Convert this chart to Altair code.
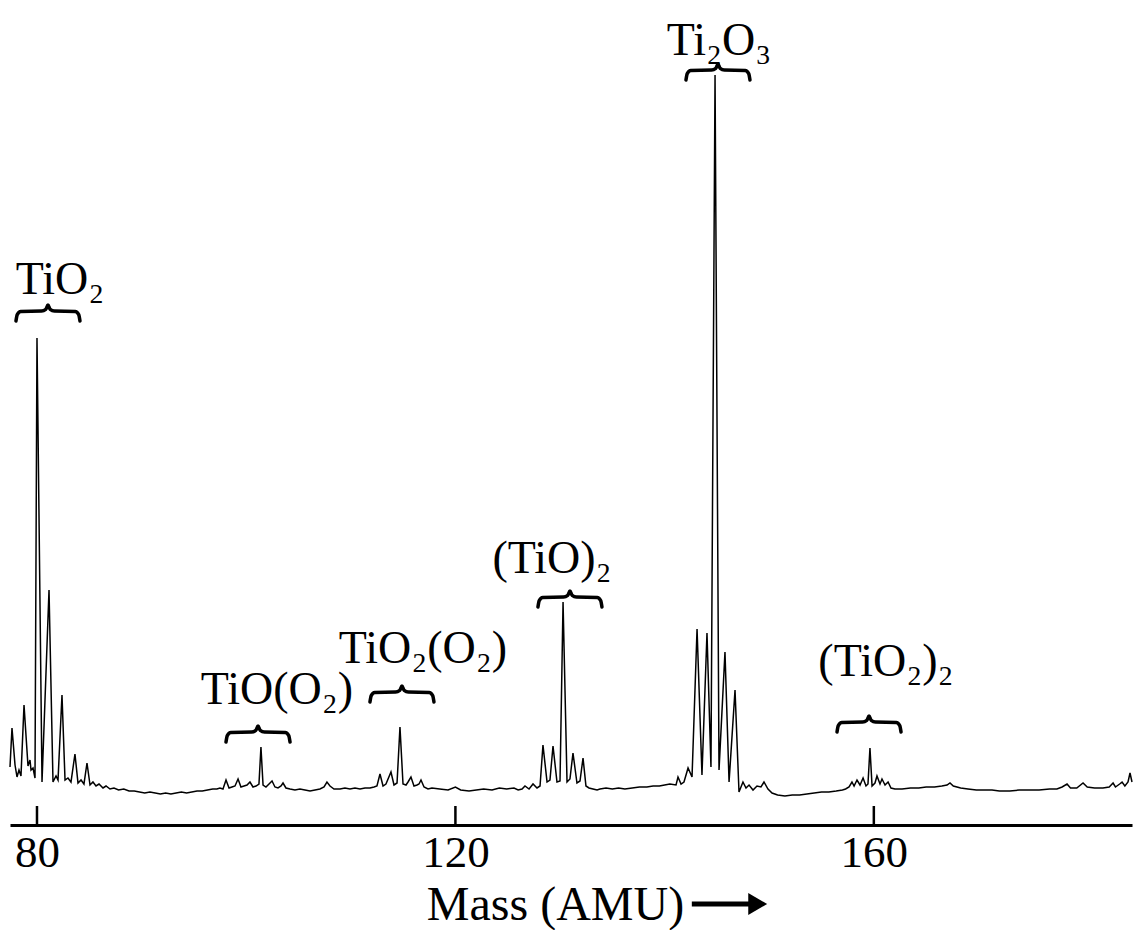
import altair as alt
import pandas as pd

# Mass spectrum of titanium oxide clusters: mass (AMU) and detector signal (arb. units)
mass = [
    # TiO2 group
    77.42, 77.61, 77.90, 78.09, 78.28, 78.47, 78.76, 79.14, 79.33, 79.43, 79.62, 79.81,
    80.00, 80.48, 81.15, 81.53, 81.82, 82.01, 82.39, 82.68, 82.96, 83.25, 83.63, 83.92,
    84.21, 84.49, 84.78, 85.07, 85.35, 85.64, 85.93, 86.31, 86.60, 86.98, 87.36, 87.8,
    88.3, 88.8, 89.3, 89.8, 90.3, 90.8, 91.3, 91.8, 92.3, 92.8, 93.3, 93.8, 94.3, 94.8,
    95.3, 95.8, 96.3, 96.8, 97.2, 97.49,
    # TiO(O2) group
    97.78, 98.07, 98.36, 98.64, 98.93, 99.22, 99.50, 99.79, 100.08, 100.36, 100.65,
    100.94, 101.22, 101.41, 101.61, 101.89, 102.18, 102.47, 102.75, 103.04, 103.33,
    103.52, 103.80, 104.19, 104.66,
    105.14, 105.62, 106.10, 106.58, 107.05, 107.44, 107.72, 108.01, 108.39, 108.97,
    109.44, 109.92, 110.40, 110.88, 111.36, 111.83, 112.22,
    # TiO2(O2) group
    112.50, 112.79, 113.08, 113.36, 113.84, 114.13, 114.42, 114.70, 114.99, 115.28,
    115.47, 115.75, 116.04, 116.33, 116.52, 116.71, 117.00, 117.38, 117.76,
    118.5, 119.3, 120.0, 120.5, 121.3, 122.0, 122.7, 123.5, 124.2, 124.9, 125.6, 126.0,
    126.37, 126.65, 127.04, 127.42, 127.80,
    # (TiO)2 group
    128.09, 128.37, 128.76, 129.04, 129.33, 129.71, 130.00, 130.29, 130.67, 130.95,
    131.24, 131.62, 131.91, 132.20, 132.48, 132.77, 133.15, 133.54, 133.82,
    134.4, 135.0, 135.6, 136.2, 136.9, 137.6, 138.3, 138.9, 139.5, 140.0, 140.5,
    141.09, 141.28, 141.57, 141.85, 142.24, 142.62,
    # Ti2O3 group
    143.10, 143.57, 144.05, 144.43, 144.82, 145.20, 145.77, 146.16, 146.73, 147.11,
    147.49, 147.78, 148.07, 148.45, 148.83, 149.21, 149.50, 149.88, 150.27,
    150.8, 151.5, 152.2, 152.9, 153.6, 154.3, 155.0, 155.7, 156.4, 157.0, 157.3,
    # (TiO2)2 group
    157.63, 157.91, 158.11, 158.39, 158.68, 158.97, 159.25, 159.44, 159.63, 159.83,
    160.11, 160.30, 160.59, 160.78, 161.07, 161.36, 161.64, 162.02,
    162.7, 163.5, 164.3, 165.0, 165.8, 166.5, 167.0, 167.28, 167.6, 168.3, 169.0,
    169.8, 170.5, 171.3, 172.0, 173.0, 173.9, 174.9, 175.8, 176.8, 177.5, 178.0,
    178.47, 178.8, 179.4, 180.0, 180.4, 181.1, 181.9, 182.5, 182.87, 183.1, 183.5,
    183.73, 184.0, 184.3, 184.49, 184.68,
]

intensity = [
    58, 97, 60, 48, 55, 49, 120, 59, 65, 55, 57, 47,
    487, 43, 235, 43, 49, 45, 130, 45, 47, 43, 71, 42,
    45, 41, 62, 40, 43, 39, 41, 37, 39, 36, 37, 35,
    36, 34, 34, 33, 32, 33, 32, 31, 32, 31, 32, 33, 32, 33,
    34, 34, 35, 36, 36, 37,
    36, 45, 37, 38, 39, 46, 38, 39, 40, 43, 38,
    39, 41, 78, 40, 38, 41, 44, 38, 37, 39,
    42, 37, 36, 35,
    36, 35, 34, 35, 36, 38, 43, 39, 36, 36,
    37, 36, 37, 36, 37, 37, 38,
    39, 51, 39, 41, 53, 40, 42, 98, 41, 40,
    43, 48, 39, 40, 41, 45, 38, 36, 37,
    36, 35, 38, 35, 34, 35, 36, 35, 37, 36, 37, 35,
    36, 39, 36, 41, 37,
    39, 80, 43, 45, 79, 43, 44, 223, 43, 46,
    72, 42, 44, 67, 39, 37, 36, 35, 36,
    37, 36, 37, 36, 37, 38, 38, 39, 39, 40, 41,
    40, 48, 41, 43, 57, 48,
    196, 50, 192, 58, 750, 55, 173, 43, 135, 33,
    43, 37, 40, 35, 39, 38, 43, 36, 32,
    30, 29, 30, 30, 31, 32, 33, 33, 34, 35, 36,
    38, 43, 39, 45, 40, 47, 39, 41, 77, 39,
    42, 49, 41, 46, 40, 43, 37, 36,
    36, 37, 37, 38, 38, 39, 40, 42, 39, 37, 36,
    35, 35, 35, 34, 34, 35, 35, 35, 36, 36, 38,
    41, 37, 37, 42, 38, 37, 37, 38, 42, 38, 41,
    43, 39, 43, 52, 43,
]

tick_values = [80, 120, 160]

# Cluster assignments
labels = ["TiO₂", "TiO(O₂)", "TiO₂(O₂)", "(TiO)₂", "Ti₂O₃", "(TiO₂)₂"]
label_mass = [82.20, 102.94, 116.90, 129.23, 145.20, 161.16]
label_level = [531, 121, 162, 252, 770, 149]

# Horizontal curly braces grouping each cluster
brace_tip_mass = [81.05, 101.13, 114.89, 130.95, 145.10, 159.54]
brace_base = [504, 83, 123, 218, 745, 93]
BRACE_HALF = 3.06
BRACE_RISE = 16
brace_u = [-1, -0.96, -0.85, -0.2, -0.07, 0, 0.07, 0.2, 0.85, 0.96, 1]
brace_v = [0, 0.4, 0.6, 0.62, 0.72, 1, 0.72, 0.62, 0.6, 0.4, 0]

FONT = "Liberation Serif"
X_DOMAIN = [77.42, 184.68]
Y_DOMAIN = [0, 815]
TICK_LEN = 19

spec_df = pd.DataFrame({"mass": mass, "signal": intensity})
tick_df = pd.DataFrame({"mass": tick_values,
                        "y0": Y_DOMAIN[0], "y1": Y_DOMAIN[0] + TICK_LEN})
label_df = pd.DataFrame({"text": labels, "mass": label_mass, "signal": label_level})

brace_rows = []
for i, (tip, base) in enumerate(zip(brace_tip_mass, brace_base)):
    for k, (u, v) in enumerate(zip(brace_u, brace_v)):
        brace_rows.append({"brace": i, "k": k,
                           "mass": tip + u * BRACE_HALF,
                           "signal": base + v * BRACE_RISE})
brace_df = pd.DataFrame(brace_rows)

# Arrow after the axis title
arrow_df = pd.DataFrame({"m0": [142.6], "m1": [148.3], "signal": [-79]})
head_df = pd.DataFrame({"mass": [148.9], "signal": [-79]})

x_scale = alt.Scale(domain=X_DOMAIN, nice=False, zero=False)
y_scale = alt.Scale(domain=Y_DOMAIN, nice=False, zero=False)

spectrum = alt.Chart(spec_df).mark_line(color="black", strokeWidth=1.5).encode(
    x=alt.X("mass:Q", scale=x_scale,
            axis=alt.Axis(values=tick_values, ticks=False, grid=False,
                          domainColor="black", domainWidth=3,
                          labelFont=FONT, labelFontSize=45, labelColor="black",
                          labelPadding=5, labelFlush=False,
                          title="Mass (AMU)", titleFont=FONT, titleFontSize=48,
                          titleFontWeight="normal", titleColor="black",
                          titleX=545, titleY=94, titleAlign="center",
                          titleBaseline="alphabetic")),
    y=alt.Y("signal:Q", scale=y_scale, axis=None),
)

ticks = alt.Chart(tick_df).mark_rule(color="black", strokeWidth=2.5).encode(
    x="mass:Q", y="y0:Q", y2="y1:Q"
)

braces = alt.Chart(brace_df).mark_line(
    color="black", strokeWidth=3.5, interpolate="monotone", strokeCap="round"
).encode(
    x="mass:Q", y="signal:Q", detail="brace:N", order="k:Q"
)

texts = alt.Chart(label_df).mark_text(
    font=FONT, fontSize=46, align="center", baseline="alphabetic", color="black"
).encode(x="mass:Q", y="signal:Q", text="text:N")

arrow = alt.Chart(arrow_df).mark_rule(color="black", strokeWidth=5).encode(
    x="m0:Q", x2="m1:Q", y="signal:Q"
)
head = alt.Chart(head_df).mark_point(
    shape="triangle-right", size=480, filled=True, color="black", opacity=1
).encode(x="mass:Q", y="signal:Q")

chart = alt.layer(spectrum, ticks, braces, texts, arrow, head).properties(
    width=1122, height=815,
    autosize=alt.AutoSizeParams(type="none"),
    padding={"left": 10, "top": 10, "right": 2, "bottom": 105},
    background="white",
).configure_view(stroke=None)

chart.save("out.html", embed_options={"renderer": "svg", "actions": False})
